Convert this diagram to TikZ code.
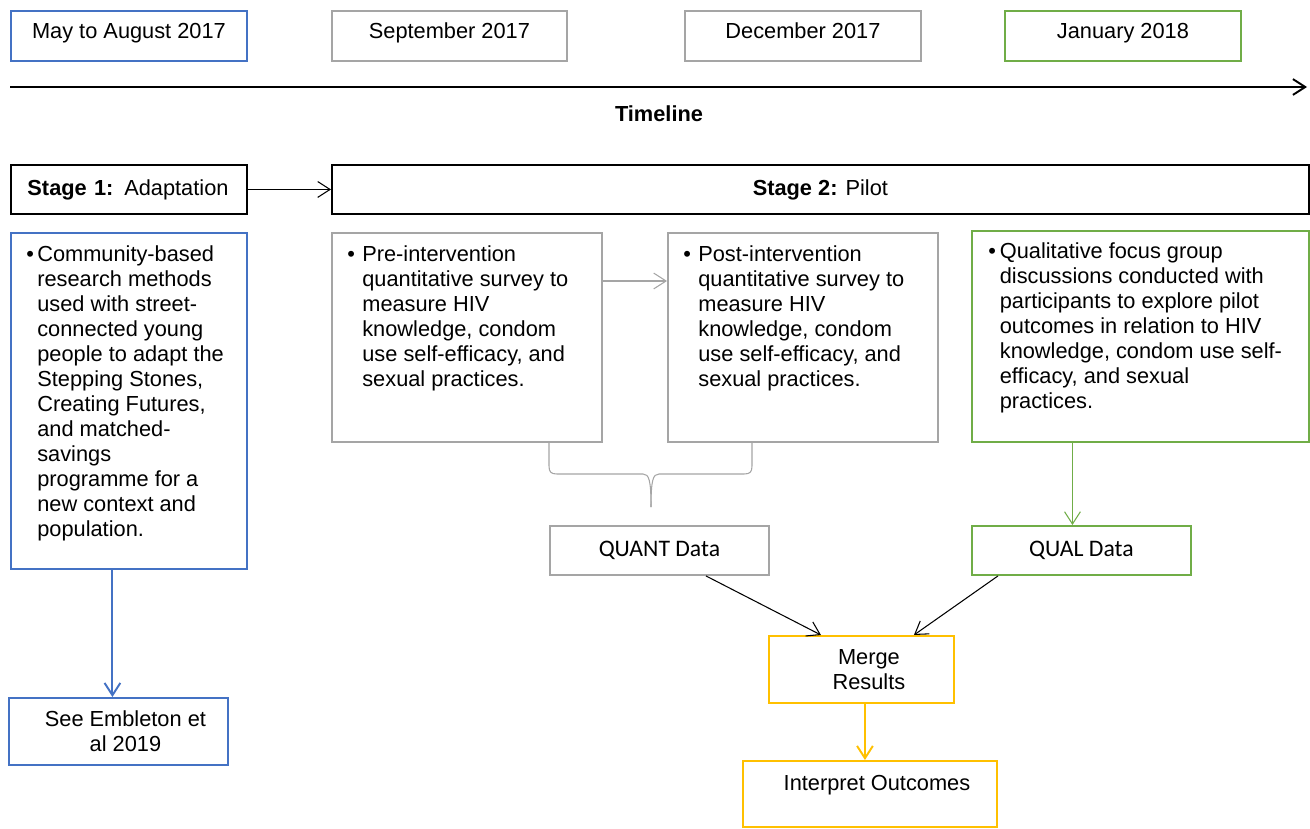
\documentclass[tikz,border=0pt]{standalone}
\usepackage{fontspec}
\setmainfont{Liberation Sans}
\newfontfamily\calibri{Carlito}
\usepackage{xcolor}
\usetikzlibrary{arrows.meta}

\definecolor{boxblue}{HTML}{4472C4}
\definecolor{boxgray}{HTML}{A5A5A5}
\definecolor{boxgreen}{HTML}{70AD47}
\definecolor{boxyellow}{HTML}{FFC000}

\tikzset{
  box/.style={draw, line width=1.1pt, inner sep=0pt, anchor=north west, align=center},
  datebox/.style={box, minimum width=4.72cm, minimum height=1cm, text height=9pt, text depth=5.6pt},
  bullets/.style={anchor=base west, inner sep=0pt},
  datafont/.style={font=\calibri\fontsize{13.5}{16}\selectfont},
}

\begin{document}
\begin{tikzpicture}[x=0.02cm, y=-0.02cm, >={Straight Barb[length=7pt,width=9pt]},
    font=\fontsize{12.4}{14.2}\selectfont]
       \useasboundingbox (0,0) rectangle (1310,828);

       % Timeline
       \node[datebox, draw=boxblue] (may) at (10,10) {May to August 2017};
       \node[datebox, draw=boxgray, minimum width=4.70cm] (sep) at (331,10) {September 2017};
       \node[datebox, draw=boxgray] (dec) at (684,10) {December 2017};
       \node[datebox, draw=boxgreen] (jan) at (1004,10) {January 2018};
       \coordinate (tstart) at (10,87);
       \coordinate (tend) at (1307,87);
       \draw[->, line width=1.1pt] (tstart) -- (tend);
       \node (timeline) at (659,114) {\textbf{Timeline}};

       % Stages
       \node[box, minimum height=0.98cm, text width=4.06cm, inner xsep=0.33cm, align=left] (stageone) at (10,164) {\textbf{Stage 1:} Adaptation};
       \node[box, minimum width=19.54cm, minimum height=0.98cm] (stagetwo) at (331,164) {\textbf{Stage 2:} Pilot};
       \draw[->, line width=0.6pt] (stageone) -- (stagetwo);

       % Stage 1 content
       \node[box, draw=boxblue, minimum width=4.72cm, minimum height=6.72cm] (adapt) at (10,232) {};
       \node[bullets] (adapt-txt) at ([xshift=0.32cm,yshift=-0.6cm]adapt.north west) {%
         \begin{tabular}[t]{@{}p{0.22cm}@{}l@{}}
           \textbullet & Community-based\\
           & research methods\\
           & used with street-\\
           & connected young\\
           & people to adapt the\\
           & Stepping Stones,\\
           & Creating Futures,\\
           & and matched-\\
           & savings\\
           & programme for a\\
           & new context and\\
           & population.
         \end{tabular}};
       \node[box, draw=boxblue, minimum width=4.38cm, minimum height=1.34cm] (see) at (8,697) {};
       \node[align=center] (see-txt) at ([xshift=0.14cm]see.center) {See Embleton et\\al 2019};
       \draw[->, boxblue, line width=1.1pt] ([xshift=-0.33cm]adapt.south) -- ([xshift=-0.33cm]adapt.south |- see.north);

       % Stage 2 content
       \node[box, draw=boxgray, minimum width=5.40cm, minimum height=4.18cm] (pre) at (331,232) {};
       \node[bullets] (pre-txt) at ([xshift=0.32cm,yshift=-0.6cm]pre.north west) {%
         \begin{tabular}[t]{@{}p{0.30cm}@{}l@{}}
           \textbullet & Pre-intervention\\
           & quantitative survey to\\
           & measure HIV\\
           & knowledge, condom\\
           & use self-efficacy, and\\
           & sexual practices.
         \end{tabular}};
       \node[box, draw=boxgray, minimum width=5.40cm, minimum height=4.18cm] (post) at (667,232) {};
       \node[bullets] (post-txt) at ([xshift=0.32cm,yshift=-0.6cm]post.north west) {%
         \begin{tabular}[t]{@{}p{0.30cm}@{}l@{}}
           \textbullet & Post-intervention\\
           & quantitative survey to\\
           & measure HIV\\
           & knowledge, condom\\
           & use self-efficacy, and\\
           & sexual practices.
         \end{tabular}};
       \draw[->, boxgray, line width=0.6pt] ([yshift=-0.98cm]pre.north east) -- ([yshift=-0.98cm]post.north west);
       \node[box, draw=boxgreen, minimum width=6.74cm, minimum height=4.22cm] (qual) at (971,230) {};
       \node[bullets] (qual-txt) at ([xshift=0.34cm,yshift=-0.58cm]qual.north west) {%
         \begin{tabular}[t]{@{}p{0.23cm}@{}l@{}}
           \textbullet & Qualitative focus group\\
           & discussions conducted with\\
           & participants to explore pilot\\
           & outcomes in relation to HIV\\
           & knowledge, condom use self-\\
           & efficacy, and sexual\\
           & practices.
         \end{tabular}};

       % Brace under the surveys
       \draw[boxgray, line width=0.6pt] (549,441) -- (549,466) .. controls (549,472) and (551,474) .. (557,474) -- (643,474)
           .. controls (649,474) and (651,480) .. (651,507);
       \draw[boxgray, line width=0.6pt] (752,441) -- (752,466) .. controls (752,472) and (750,474) .. (744,474) -- (659,474)
           .. controls (653,474) and (651,480) .. (651,507);

       % Data
       \node[box, draw=boxgray, minimum width=4.38cm, minimum height=0.98cm, datafont] (quant) at (549,525) {QUANT Data};
       \node[box, draw=boxgreen, minimum width=4.38cm, minimum height=0.98cm, datafont] (qualdata) at (971,525) {QUAL Data};
       \draw[->, boxgreen, line width=0.6pt] ([xshift=-0.18cm]qualdata.north |- qual.south) -- ([xshift=-0.18cm]qualdata.north);

       % Merge and interpret
       \node[box, draw=boxyellow, minimum width=3.70cm, minimum height=1.34cm] (merge) at (768,635) {};
       \node[align=center] (merge-txt) at ([xshift=0.15cm]merge.center) {Merge\\Results};
       \draw[->, line width=0.6pt] ([xshift=0.93cm]quant.south) -- ([xshift=-0.81cm]merge.north);
       \draw[->, line width=0.6pt] ([xshift=-1.67cm]qualdata.south) -- ([xshift=1.05cm]merge.north);
       \node[box, draw=boxyellow, minimum width=5.08cm, minimum height=1.32cm] (interp) at (742,760) {};
       \node[anchor=base] (interp-txt) at ([xshift=0.14cm,yshift=-0.6cm]interp.north) {Interpret Outcomes};
       \draw[->, boxyellow, line width=1.1pt] ([xshift=0.07cm]merge.south) -- ([xshift=0.07cm]merge.south |- interp.north);
\end{tikzpicture}
\end{document}
